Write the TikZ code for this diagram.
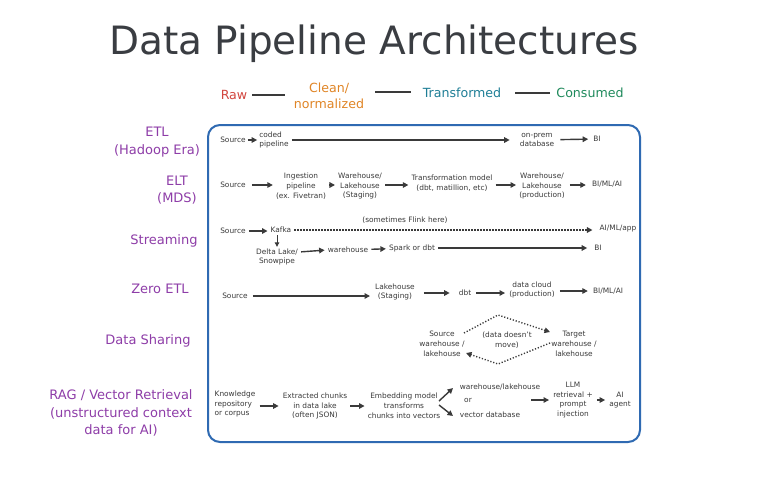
\documentclass[tikz,border=0pt]{standalone}
\usepackage{fontspec}
\setmainfont{DejaVu Sans}
\usetikzlibrary{arrows.meta,calc}
\definecolor{ink}{HTML}{3A3A3A}
\definecolor{titleink}{HTML}{3A3D42}
\definecolor{purp}{HTML}{8E3DA8}
\definecolor{boxblue}{HTML}{2F6AB2}
\definecolor{rawred}{HTML}{D2463F}
\definecolor{cleanor}{HTML}{E08526}
\definecolor{transteal}{HTML}{1E7E96}
\definecolor{consgreen}{HTML}{1F8A5C}
\begin{document}
\begin{tikzpicture}[x=1pt,y=-1pt,
  txt/.style={font=\fontsize{7.4}{9.8}\selectfont, text=ink, align=center, inner sep=1pt},
  lab/.style={font=\fontsize{13}{17.5}\selectfont, text=purp, align=center, inner sep=0pt},
  hdr/.style={font=\fontsize{12.6}{15.5}\selectfont, inner sep=1pt, align=center},
  arr/.style={-{Triangle[length=5.5pt,width=5.5pt]}, line width=1.4pt, draw=ink, shorten >=2pt, shorten <=2pt},
  thin/.style={-{Triangle[length=4.5pt,width=4.5pt]}, line width=1pt, draw=ink, shorten >=2pt, shorten <=2pt},
  dots/.style={-{Triangle[length=5.5pt,width=5.5pt]}, line width=1.4pt, draw=ink, dash pattern=on 1.2pt off 1.8pt, shorten >=2pt, shorten <=2pt},
  hline/.style={line width=1.4pt, draw=ink}]
\useasboundingbox (0,0) rectangle (768,491);
\fill[white] (0,0) rectangle (768,491);

% title
\node[font=\fontsize{39}{45}\selectfont, text=titleink, inner sep=0pt] (title) at (374,44) {Data Pipeline Architectures};

% header
\node[hdr, text=rawred] (hraw) at (234,95) {Raw};
\node[hdr, text=cleanor] (hclean) at (329,96) {Clean/\\normalized};
\node[hdr, text=transteal] (htrans) at (462,93) {Transformed};
\node[hdr, text=consgreen] (hcons) at (590,93) {Consumed};
\coordinate (h1a) at (252,95); \coordinate (h1b) at (285,95);
\coordinate (h2a) at (375,92); \coordinate (h2b) at (411,92);
\coordinate (h3a) at (515,93); \coordinate (h3b) at (550,93);
\draw[hline] (h1a) -- (h1b);
\draw[hline] (h2a) -- (h2b);
\draw[hline] (h3a) -- (h3b);

% box
\draw[boxblue, line width=2pt, rounded corners=12pt] (208,125) rectangle (640,442);

% left labels
\node[lab] (letl) at (157,142) {ETL\\(Hadoop Era)};
\node[lab] (lelt) at (177,190) {ELT\\(MDS)};
\node[lab] (lstr) at (164,241) {Streaming};
\node[lab] (lzero) at (160,289) {Zero ETL};
\node[lab] (lshare) at (148,341) {Data Sharing};
\node[lab] (lrag) at (121,413) {RAG / Vector Retrieval\\(unstructured context\\data for AI)};

% ETL row
\node[txt] (e1) at (233,140) {Source};
\node[txt, align=left] (e2) at (274,140) {coded\\pipeline};
\node[txt] (e3) at (537,140) {on-prem\\database};
\node[txt] (e4) at (597,139) {BI};
\draw[arr, shorten <=1pt, shorten >=1pt] (e1) -- (e2);
\draw[arr, shorten >=9pt] (e2) -- (e3);
\draw[arr, shorten >=4pt, shorten <=5pt] (e3) -- (e4);

% ELT row
\node[txt] (l1) at (233,185) {Source};
\node[txt] (l2) at (301,186) {Ingestion\\pipeline\\(ex. Fivetran)};
\node[txt] (l3) at (360,186) {Warehouse/\\Lakehouse\\(Staging)};
\node[txt] (l4) at (452,183) {Transformation model\\(dbt, matillion, etc)};
\node[txt] (l5) at (542,186) {Warehouse/\\Lakehouse\\(production)};
\node[txt] (l6) at (607,184) {BI/ML/AI};
\draw[arr, shorten <=5pt] (l1.east) -- (l2.west |- l1.east);
\draw[arr] (l2.east |- l1.east) -- (l3.west |- l1.east);
\draw[arr] (l3.east |- l1.east) -- (l4.west |- l1.east);
\draw[arr] (l4.east |- l1.east) -- (l5.west |- l1.east);
\draw[arr, shorten <=4pt, shorten >=5pt] (l5.east |- l1.east) -- (l6.west |- l1.east);

% Streaming row
\node[txt] (s1) at (233,231) {Source};
\node[txt] (s2) at (281,230) {Kafka};
\node[txt] (s3) at (618,229) {AI/ML/app};
\node[txt] (sfl) at (405,220) {(sometimes Flink here)};
\node[txt] (s4) at (277,257) {Delta Lake/\\Snowpipe};
\node[txt] (s5) at (348,250) {warehouse};
\node[txt] (s6) at (412,248) {Spark or dbt};
\node[txt] (s7) at (598,248) {BI};
\draw[arr] (s1.east) -- (s2.west |- s1.east);
\draw[dots, shorten >=6pt] (s2) -- (s3.west |- s2.east);
\draw[thin, shorten <=1pt, shorten >=0.5pt] (s2.south -| s4.north) -- (s4.north);
\draw[arr] (s4.east |- 0,252) -- (s5.west);
\draw[arr] (s5) -- (s6);
\draw[arr, shorten >=6pt] (s6.east) -- (s7.west);

% Zero ETL row
\node[txt] (z1) at (235,296) {Source};
\node[txt] (z2) at (395,292) {Lakehouse\\(Staging)};
\node[txt] (z3) at (465,293) {dbt};
\node[txt] (z4) at (532,290) {data cloud\\(production)};
\node[txt] (z5) at (608,291) {BI/ML/AI};
\draw[arr, shorten <=4pt, shorten >=4pt] (z1.east) -- (z2.west |- z1.east);
\draw[arr, shorten <=8pt, shorten >=8pt] (z2.east |- z3.west) -- (z3.west);
\draw[arr, shorten <=4pt, shorten >=3pt] (z3) -- (z4.west |- z3.east);
\draw[arr, shorten <=4pt, shorten >=4pt] (z4.east |- z5.west) -- (z5.west);

% Data sharing
\node[txt] (d1) at (442,344) {Source\\warehouse /\\lakehouse};
\node[txt] (d2) at (574,344) {Target\\warehouse /\\lakehouse};
\node[txt] (dm) at (507,340) {(data doesn't\\move)};
\coordinate (dtop) at (498,315);
\coordinate (dbot) at (498,364);
\coordinate (dsrc) at (464,333);
\coordinate (dtgt) at (550,332);
\coordinate (dtgt2) at (550,343);
\coordinate (dsrc2) at (466,353);
\draw[dots, shorten <=0pt, shorten >=0pt] (dsrc) -- (dtop) -- (dtgt);
\draw[dots, shorten <=0pt, shorten >=0pt] (dtgt2) -- (dbot) -- (dsrc2);

% RAG row
\node[txt, align=left] (r1) at (235,404) {Knowledge\\repository\\or corpus};
\node[txt] (r2) at (315,406) {Extracted chunks\\in data lake\\(often JSON)};
\node[txt] (r3) at (404,406) {Embedding model\\transforms\\chunks into vectors};
\node[txt] (r4) at (500,387) {warehouse/lakehouse};
\node[txt] (ror) at (468,400) {or};
\node[txt] (r5) at (490,415) {vector database};
\node[txt] (r6) at (573,400) {LLM\\retrieval +\\prompt\\injection};
\node[txt] (r7) at (620,400) {AI\\agent};
\draw[arr, shorten <=3pt, shorten >=3pt] (r1.east |- r2.west) -- (r2.west);
\draw[arr, shorten <=2pt, shorten >=2pt] (r2) -- (r3);
\coordinate (r3a) at (439,401);
\coordinate (r3b) at (439,405);
\coordinate (r4a) at (453,388);
\coordinate (r5a) at (453,416);
\draw[arr, shorten <=0pt, shorten >=0pt] (r3a) -- (r4a);
\draw[arr, shorten <=0pt, shorten >=0pt] (r3b) -- (r5a);
\draw[arr, shorten <=10pt, shorten >=3pt] (r5.east |- r6.west) -- (r6.west);
\draw[arr, shorten <=3pt, shorten >=3pt] (r6) -- (r7);
\end{tikzpicture}
\end{document}
